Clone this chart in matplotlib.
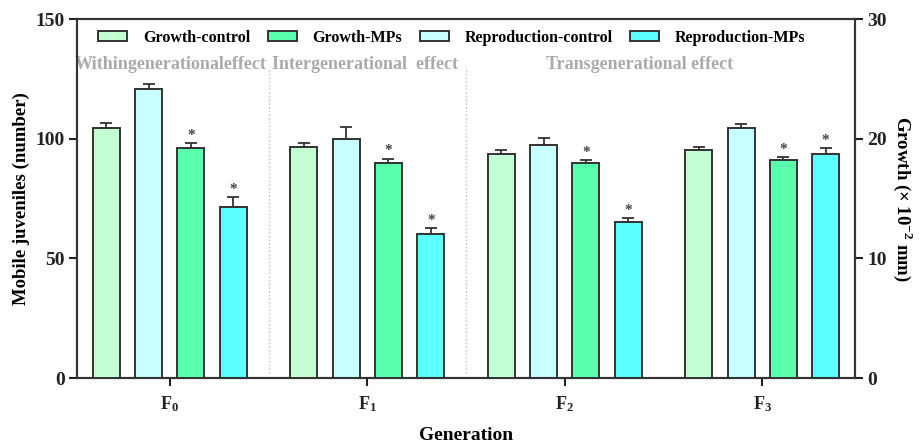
import numpy as np
import matplotlib
matplotlib.use("Agg")
import matplotlib.pyplot as plt

plt.rcParams['font.family'] = ['Liberation Serif', 'DejaVu Serif']
plt.rcParams['font.weight'] = 'bold'
plt.rcParams['axes.labelweight'] = 'bold'
plt.rcParams['mathtext.fontset'] = 'custom'
plt.rcParams['mathtext.rm'] = 'Liberation Serif:bold'
plt.rcParams['mathtext.bf'] = 'Liberation Serif:bold'

# data
generations = [r'$\mathrm{F_0}$', r'$\mathrm{F_1}$', r'$\mathrm{F_2}$', r'$\mathrm{F_3}$']
growth_control = [20.9, 19.35, 18.7, 19.05]       # x10^-2 mm
growth_control_err = [0.44, 0.3, 0.34, 0.22]
growth_mps = [19.25, 18.0, 18.0, 18.2]
growth_mps_err = [0.38, 0.34, 0.22, 0.26]
repro_control = [120.8, 100.0, 97.4, 104.6]       # mobile juveniles
repro_control_err = [2.1, 5.0, 2.7, 1.5]
repro_mps = [71.3, 60.2, 65.3, 93.6]
repro_mps_err = [4.3, 2.4, 1.7, 2.4]
effects = ['Withingenerationaleffect', 'Intergenerational  effect', 'Transgenerational effect']

c_gc = '#C4FFD4'
c_gm = '#5AFFAD'
c_rc = '#C8FFFF'
c_rm = '#5CFFFF'
edge = '#333333'

x = np.arange(len(generations))
w = 0.137
step = 0.214

fig = plt.figure(figsize=(9.2, 4.44), dpi=100)
ax = fig.add_axes([0.0837, 0.1486, 0.8457, 0.8084])
ax2 = ax.twinx()

ekw = dict(capsize=4, elinewidth=1.3, capthick=1.3, ecolor=edge)

# growth on right axis, reproduction on left axis
b1 = ax2.bar(x - 1.5 * step, growth_control, w, color=c_gc, edgecolor=edge, linewidth=1.4,
             yerr=[np.zeros(4), growth_control_err], error_kw=ekw, label='Growth-control', zorder=3)
b3 = ax2.bar(x + 0.5 * step, growth_mps, w, color=c_gm, edgecolor=edge, linewidth=1.4,
             yerr=[np.zeros(4), growth_mps_err], error_kw=ekw, label='Growth-MPs', zorder=3)
b2 = ax.bar(x - 0.5 * step, repro_control, w, color=c_rc, edgecolor=edge, linewidth=1.4,
            yerr=[np.zeros(4), repro_control_err], error_kw=ekw, label='Reproduction-control', zorder=3)
b4 = ax.bar(x + 1.5 * step, repro_mps, w, color=c_rm, edgecolor=edge, linewidth=1.4,
            yerr=[np.zeros(4), repro_mps_err], error_kw=ekw, label='Reproduction-MPs', zorder=3)

# significance stars
for i in range(4):
    ax2.text(x[i] + 0.5 * step, growth_mps[i] + growth_mps_err[i] + 0.1, '*',
             ha='center', va='bottom', fontsize=11, color='#444444')
    ax.text(x[i] + 1.5 * step, repro_mps[i] + repro_mps_err[i] + 0.5, '*',
            ha='center', va='bottom', fontsize=11, color='#444444')

ax.set_xlim(-0.47, 3.47)
ax.set_ylim(0, 150)
ax2.set_ylim(0, 30)
ax.set_yticks([0, 50, 100, 150])
ax2.set_yticks([0, 10, 20, 30])
ax.set_xticks(x)
ax.set_xticklabels(generations)

for a in (ax, ax2):
    for s in a.spines.values():
        s.set_linewidth(1.5)
        s.set_color('#333333')
    a.tick_params(width=1.5, length=6, labelsize=14, colors='#222222', pad=3)
ax.tick_params(axis='x', labelsize=13, pad=6)

# dotted separators and effect labels
for xs in [0.5, 1.5]:
    ax.plot([xs, xs], [2, 130], ls=':', color='#bbbbbb', lw=1, zorder=1)
ax.text(0.005, 131, effects[0], ha='center', va='center', fontsize=13, color='#aaaaaa')
ax.text(0.99, 131, effects[1], ha='center', va='center', fontsize=13, color='#aaaaaa')
ax.text(2.38, 131, effects[2], ha='center', va='center', fontsize=13, color='#aaaaaa')

ax.set_ylabel('Mobile juveniles (number)', fontsize=13.5, labelpad=4)
ax2.set_ylabel(r'Growth ($\times$ 10$^{-2}$ mm)', fontsize=13.5, rotation=270, labelpad=20)
ax.set_xlabel('Generation', fontsize=14, labelpad=9)

ax.legend(handles=[b1, b3, b2, b4], loc='upper center', bbox_to_anchor=(0.482, 1.01), ncol=4,
          frameon=False, fontsize=11.5, handlelength=1.8, handleheight=0.6, columnspacing=1.1,
          handletextpad=1.0)

fig.savefig('out.png', dpi=100)
